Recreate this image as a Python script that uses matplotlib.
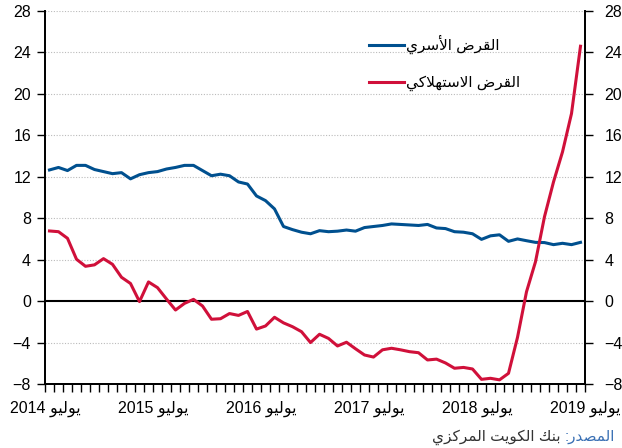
import matplotlib
matplotlib.use('Agg')
import matplotlib.pyplot as plt
import numpy as np

plt.rcParams['font.family'] = ['Liberation Sans', 'DejaVu Sans']

# monthly data, Jul 2014 - Jun 2019 (% y/y)
household = [12.66, 12.9, 12.6, 13.1, 13.1, 12.7, 12.5, 12.3, 12.4, 11.8,
             12.2, 12.4, 12.5, 12.75, 12.9, 13.1, 13.1, 12.6, 12.1, 12.25,
             12.1, 11.5, 11.3, 10.15, 9.7, 8.9, 7.2, 6.9, 6.65, 6.5,
             6.8, 6.7, 6.75, 6.86, 6.75, 7.1, 7.2, 7.3, 7.45, 7.4,
             7.35, 7.3, 7.4, 7.06, 7.0, 6.7, 6.65, 6.5, 5.96, 6.3,
             6.4, 5.77, 6.0, 5.83, 5.67, 5.65, 5.45, 5.58, 5.45, 5.67]
consumer = [6.77, 6.7, 6.06, 4.04, 3.36, 3.5, 4.1, 3.55, 2.3, 1.7,
            -0.05, 1.85, 1.3, 0.2, -0.86, -0.22, 0.17, -0.47, -1.75, -1.7,
            -1.2, -1.38, -1.0, -2.7, -2.4, -1.56, -2.1, -2.47, -2.95, -4.0,
            -3.2, -3.6, -4.33, -3.97, -4.6, -5.2, -5.4, -4.7, -4.55, -4.7,
            -4.88, -4.98, -5.68, -5.6, -5.97, -6.48, -6.4, -6.55, -7.55, -7.45,
            -7.6, -6.97, -3.5, 0.9, 3.8, 8.15, 11.5, 14.4, 18.1, 24.6]
years = [2014, 2015, 2016, 2017, 2018, 2019]
label_household = 'القرض الأسري'
label_consumer = 'القرض الاستهلاكي'
source_head = 'المصدر:'
source_body = 'بنك الكويت المركزي'

# minimal arabic shaping (matplotlib has no bidi / joining)
DUAL = {'ب': 0xFE8F, 'ت': 0xFE95, 'س': 0xFEB1, 'ص': 0xFEB9, 'ض': 0xFEBD,
        'ق': 0xFED5, 'ك': 0xFED9, 'ل': 0xFEDD, 'م': 0xFEE1, 'ن': 0xFEE5,
        'ه': 0xFEE9, 'ي': 0xFEF1}
RIGHT = {'ا': 0xFE8D, 'أ': 0xFE83, 'د': 0xFEA9, 'ر': 0xFEAD, 'ز': 0xFEAF,
         'و': 0xFEED, 'لا': 0xFEFB, 'لأ': 0xFEF7}


def shape_word(word):
    units = []
    i = 0
    while i < len(word):
        if word[i] == 'ل' and word[i + 1:i + 2] in ('ا', 'أ'):
            units.append(word[i:i + 2])
            i += 2
        else:
            units.append(word[i])
            i += 1
    out = []
    for j, u in enumerate(units):
        prev = units[j - 1] if j > 0 else None
        nxt = units[j + 1] if j + 1 < len(units) else None
        joins = u in DUAL or u in RIGHT
        jp = joins and prev in DUAL
        jn = u in DUAL and (nxt in DUAL or nxt in RIGHT)
        if u in DUAL:
            out.append(chr(DUAL[u] + jp + 2 * jn))
        elif u in RIGHT:
            out.append(chr(RIGHT[u] + jp))
        else:
            out.append(u)
    return ''.join(reversed(out))


def ar(text):
    words = [shape_word(w) if any('\u0600' <= c <= '\u06ff' for c in w) else w
             for w in text.split(' ')]
    return ' '.join(reversed(words))


blue = '#00508f'
red = '#d0103a'

fig = plt.figure(figsize=(6.22, 4.48), dpi=100)
ax = fig.add_axes([45 / 622, 1 - 384 / 448, 540 / 622, 373 / 448])

x = np.arange(len(household)) + 0.5
ax.plot(x, household, color=blue, lw=2.2, label=ar(label_household), zorder=3)
ax.plot(x, consumer, color=red, lw=2.2, label=ar(label_consumer), zorder=3)

ax.set_xlim(0, 60)
ax.set_ylim(-8, 28)
yt = np.arange(-8, 29, 4)
ax.set_yticks(yt)
for v in yt:
    if v not in (-8, 0):
        ax.axhline(v, color='#bbbbbb', lw=0.8, ls=(0, (1, 1.5)), zorder=1)
ax.axhline(0, color='black', lw=1.5, zorder=2)

ax.set_xticks(np.arange(0, 61, 12))
ax.set_xticks(np.arange(0, 61, 1), minor=True)
ax.set_xticklabels([ar(f'يوليو {y}') for y in years])
ax.tick_params(axis='x', which='both', direction='out', length=6, width=1, pad=6,
               labelsize=11.5, colors='black')
ax.tick_params(axis='y', direction='out', length=6, width=1, labelsize=11.5, pad=4)

# right-hand scale, same values
ax2 = ax.twinx()
ax2.set_ylim(ax.get_ylim())
ax2.set_yticks(yt)
ax2.tick_params(axis='y', direction='out', length=6, width=1, labelsize=11.5, pad=8)

for a in (ax, ax2):
    a.spines['top'].set_visible(False)
    for s in ('left', 'right', 'bottom'):
        a.spines[s].set_linewidth(1.3)

leg = ax.legend(loc='upper left', bbox_to_anchor=(369 / 622, 1 - 35 / 448),
                bbox_transform=fig.transFigure, frameon=False, fontsize=11,
                handlelength=2.3, handletextpad=0.1, labelspacing=1.4,
                borderpad=0, borderaxespad=0)

head = fig.text(615 / 622, 1 - 437 / 448, ar(source_head), color='#3a70b4',
                fontsize=11, ha='right', va='center')
ax.annotate(ar(source_body), xy=(0, 0.5), xycoords=head, xytext=(-3, 0),
            textcoords='offset points', ha='right', va='center',
            color='#333333', fontsize=11)

fig.savefig('out.png', dpi=100)
